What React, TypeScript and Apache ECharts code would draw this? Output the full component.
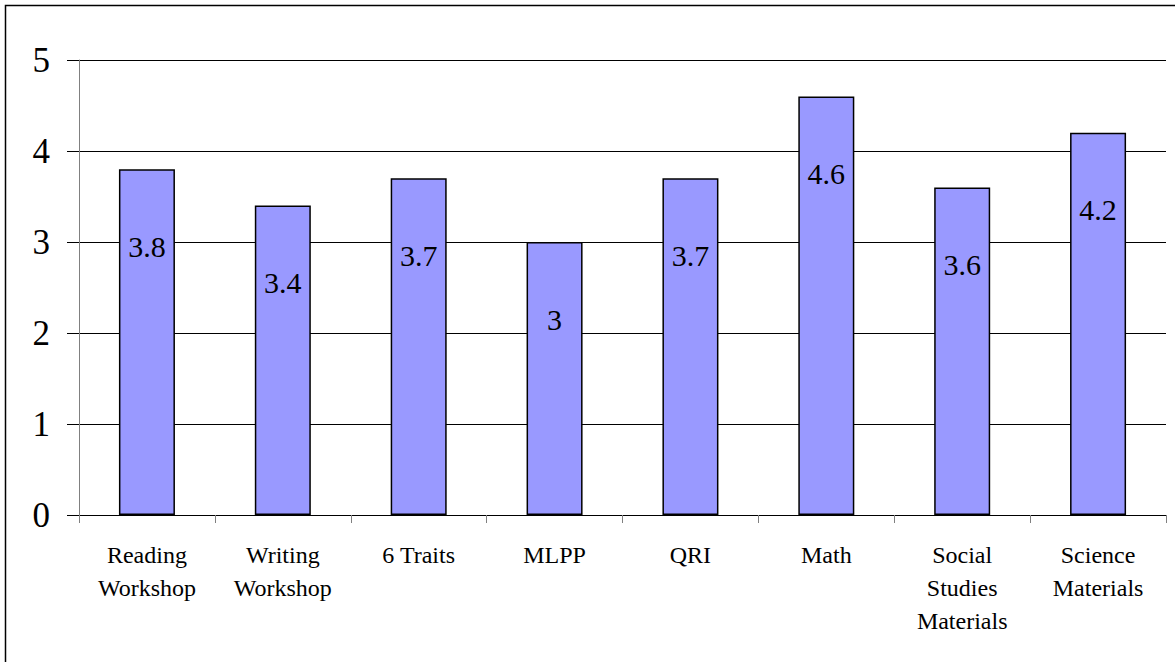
import React, { useEffect, useRef } from "react";
import * as echarts from "echarts";

const categories = [
  "Reading\nWorkshop",
  "Writing\nWorkshop",
  "6 Traits",
  "MLPP",
  "QRI",
  "Math",
  "Social\nStudies\nMaterials",
  "Science\nMaterials",
];
const values = [3.8, 3.4, 3.7, 3, 3.7, 4.6, 3.6, 4.2];
const yTicks = [0, 1, 2, 3, 4, 5];

export default function App() {
  const ref = useRef<HTMLDivElement>(null);
  useEffect(() => {
    const chart = echarts.init(ref.current!, null, { renderer: "svg" });
    const font = "Times New Roman, Liberation Serif, DejaVu Serif, serif";
    chart.setOption({
      animation: false,
      backgroundColor: "#ffffff",
      textStyle: { fontFamily: font },
      graphic: [
        {
          type: "rect",
          shape: { x: 5.5, y: 5.5, width: 1200, height: 700 },
          style: { fill: "none", stroke: "#000", lineWidth: 1.5 },
          silent: true,
        },
      ],
      grid: { left: 79, top: 60, right: 9, bottom: 147, containLabel: false },
      xAxis: {
        type: "category",
        data: categories,
        boundaryGap: true,
        axisLine: { show: true, lineStyle: { color: "#000", width: 1.2 } },
        axisTick: { show: true, length: 8, alignWithLabel: false, lineStyle: { color: "#808080" } },
        axisLabel: {
          fontFamily: font,
          fontSize: 24,
          lineHeight: 33,
          color: "#000",
          margin: 23,
          interval: 0,
          align: "center",
        },
      },
      yAxis: {
        type: "value",
        min: yTicks[0],
        max: yTicks[yTicks.length - 1],
        interval: 1,
        axisLine: { show: true, lineStyle: { color: "#808080", width: 1 } },
        axisTick: { show: true, length: 12, lineStyle: { color: "#000" } },
        splitLine: { show: true, lineStyle: { color: "#000", width: 1 } },
        axisLabel: {
          fontFamily: font,
          fontSize: 35,
          color: "#000",
          margin: 29,
          padding: [8, 0, 0, 0],
        },
      },
      series: [
        {
          type: "bar",
          data: values,
          barWidth: 56,
          itemStyle: { color: "#9999ff", borderColor: "#000", borderWidth: 1.5 },
          label: {
            show: true,
            position: "insideTop",
            distance: 62,
            fontFamily: font,
            fontSize: 30,
            color: "#000",
          },
        },
      ],
    });
    return () => chart.dispose();
  }, []);
  return (
    <div
      ref={ref}
      style={{ position: "fixed", left: 0, top: 0, width: 1175, height: 662 }}
    />
  );
}
